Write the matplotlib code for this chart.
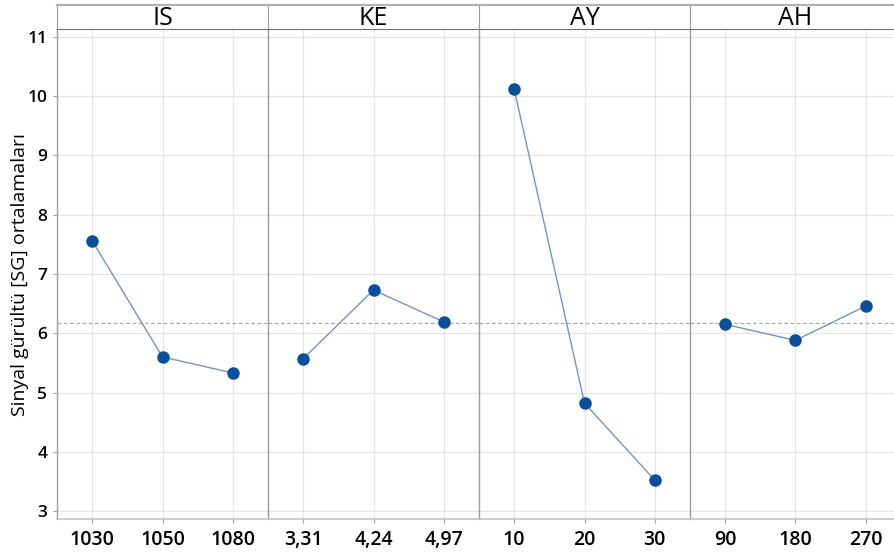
import matplotlib
matplotlib.use("Agg")
import matplotlib.pyplot as plt

plt.rcParams["font.family"] = ["Open Sans", "DejaVu Sans"]

# faktör adları, seviyeler ve S/N ortalamaları
factors = ["IS", "KE", "AY", "AH"]
levels = [
    ["1030", "1050", "1080"],
    ["3,31", "4,24", "4,97"],
    ["10", "20", "30"],
    ["90", "180", "270"],
]
sn_means = [
    [7.56, 5.60, 5.33],
    [5.57, 6.73, 6.19],
    [10.12, 4.82, 3.52],
    [6.15, 5.88, 6.46],
]
grand_mean = 6.17
yticks = [3, 4, 5, 6, 7, 8, 9, 10, 11]

W, H = 895, 559
fig = plt.figure(figsize=(W / 100, H / 100), dpi=100)

left_px, panel_w = 57, 211
top_px, bottom_px, strip_h = 29, 519, 24
line_c = "#7393c8"
mark_c = "#0b4f9a"
frame_c = "#a0a0a8"

axes = []
for k, name in enumerate(factors):
    x0 = (left_px + k * panel_w) / W
    ax = fig.add_axes([x0, 1 - bottom_px / H, panel_w / W, (bottom_px - top_px) / H])
    xs = range(1, len(levels[k]) + 1)
    ax.axhline(grand_mean, color="#a8a8b0", ls=(0, (3, 2)), lw=0.9, zorder=1)
    ax.plot(xs, sn_means[k], color=line_c, lw=1.0, zorder=2)
    ax.plot(xs, sn_means[k], "o", color=mark_c, ms=8, zorder=3)
    ax.set_xlim(0.5, 3.5)
    ax.set_ylim(2.865, 11.135)
    ax.set_xticks(list(xs))
    ax.set_xticklabels(levels[k], fontsize=14, fontweight="semibold")
    ax.set_yticks(yticks)
    ax.grid(True, color="#e4e6ec", lw=0.9, zorder=0)
    ax.set_axisbelow(True)
    ax.tick_params(axis="x", length=3, color=frame_c, pad=5)
    if k == 0:
        ax.set_yticklabels([str(t) for t in yticks], fontsize=12.5, fontweight="semibold")
        ax.tick_params(axis="y", length=3, color=frame_c, pad=4)
        ax.set_ylabel("Sinyal gürültü [SG] ortalamaları", fontsize=14, labelpad=-1)
    else:
        ax.tick_params(axis="y", left=False, labelleft=False)
    for side in ("top", "right"):
        ax.spines[side].set_visible(False)
    ax.spines["left"].set_color(frame_c if k == 0 else "#9a9aa4")
    ax.spines["left"].set_linewidth(1.0)
    ax.spines["bottom"].set_color("#c4c4cc")
    ax.spines["bottom"].set_linewidth(1.2)

    # panel başlık şeridi
    sx = fig.add_axes([x0, 1 - top_px / H, panel_w / W, strip_h / H])
    sx.set_xticks([]); sx.set_yticks([])
    for side in ("left", "right"):
        sx.spines[side].set_visible(False)
    sx.spines["top"].set_color("#b0b0b8")
    sx.spines["top"].set_linewidth(1.6)
    sx.spines["bottom"].set_color("#707078")
    sx.spines["left"].set_visible(True)
    sx.spines["left"].set_color("#9a9aa4")
    sx.text(0.5, 0.45, name, ha="center", va="center", fontsize=18, transform=sx.transAxes)
    axes.append(ax)

fig.savefig("out.png", dpi=100)
